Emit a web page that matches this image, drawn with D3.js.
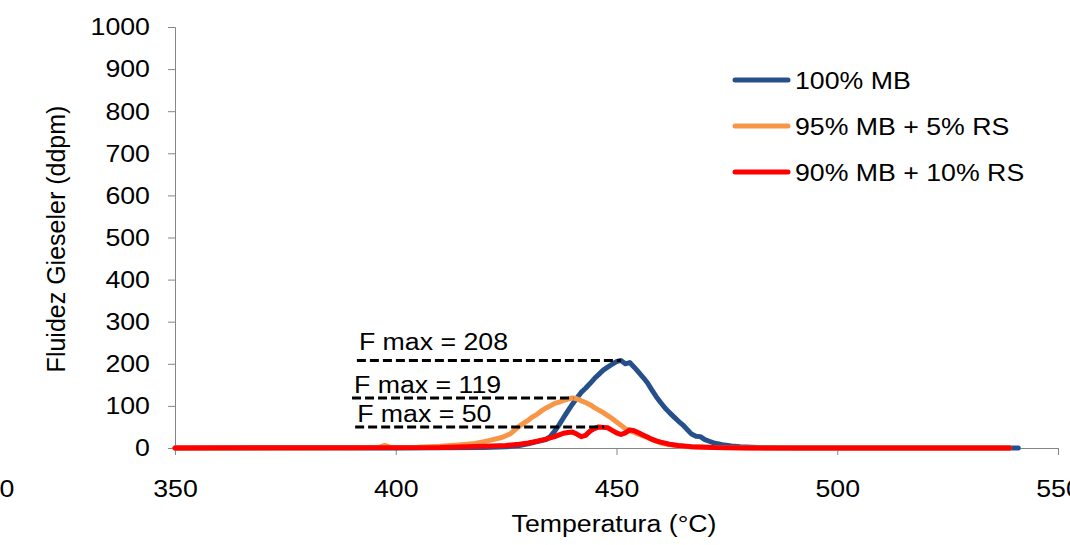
<!DOCTYPE html>
<html>
<head>
<meta charset="utf-8">
<script src="https://cdn.jsdelivr.net/npm/d3@7"></script>
<style>
  body { margin: 0; background: #fff; }
  text { font-family: Arial, "Liberation Sans", sans-serif; }
</style>
</head>
<body>
<svg id="vis"></svg>
<script>
const width = 1070;
const height = 545;

// data: temperature (°C) / Gieseler fluidity (ddpm)
const seriesNames = ["100% MB", "95% MB + 5% RS", "90% MB + 10% RS"];
const seriesColors = ["#25508a", "#f79646", "#ff0000"];

const mb100 = [
  [350, 0], [400, 0], [420, 1], [425, 3], [428, 6], [430, 10], [432, 15], [434, 20],
  [435, 27], [436, 40], [437, 55], [438, 72], [439, 88], [440, 104], [441, 118],
  [442, 132], [443, 142], [444, 153], [445, 165], [446, 175], [447, 185], [448, 192],
  [449, 199], [450, 205], [451, 208], [452, 200], [453, 203], [454, 192], [455, 180],
  [456, 168], [457, 155], [458, 138], [459, 122], [460, 108], [461, 95], [462, 84],
  [463, 74], [464, 64], [465, 55], [466, 44], [467, 33], [468, 28], [469, 27],
  [470, 20], [471, 16], [472, 12], [474, 8], [476, 5], [478, 3], [482, 1], [490, 0], [541, 0]
];
const mb95rs5 = [
  [350, 0], [390, 0], [396, 1], [397.5, 6], [399, 1], [405, 2], [410, 4], [415, 8],
  [418, 11], [420, 15], [422, 20], [424, 25], [426, 34], [427, 43], [428, 52], [429, 59],
  [430, 66], [431, 74], [432, 80], [433, 88], [434, 95], [435, 100], [436, 106],
  [437, 109], [438, 113], [439, 116], [440, 119], [441, 117], [442, 112], [443, 108],
  [444, 103], [445, 96], [446, 90], [447, 84], [448, 77], [449, 70], [450, 62],
  [451, 54], [452, 46], [453, 41], [454, 37], [455, 33], [456, 29], [457, 25],
  [458, 20], [459, 16], [460, 12], [462, 8], [464, 5], [467, 3], [472, 1], [480, 0], [539, 0]
];
const mb90rs10 = [
  [350, 0], [410, 1], [420, 4], [425, 6], [428, 9], [430, 12], [432, 16], [434, 21],
  [436, 27], [437, 31], [438, 35], [439, 37], [440, 38], [441, 33], [442, 27],
  [443, 30], [444, 40], [445, 46], [446, 50], [447, 49], [448, 48], [449, 42],
  [450, 36], [451, 32], [452, 36], [453, 43], [454, 41], [455, 36], [456, 31],
  [457, 26], [458, 21], [459, 17], [460, 14], [462, 9], [464, 6], [467, 3],
  [472, 1], [480, 0], [539, 0]
];

// F max annotations: value, dashed line from / to (°C)
const fmaxValues = [208, 119, 50];
const fmaxFrom = [391.2, 390.1, 390.8];
const fmaxTo = [451, 440.2, 447.2];

const xTicks = [350, 400, 450, 500, 550];
const yTicks = [0, 100, 200, 300, 400, 500, 600, 700, 800, 900, 1000];

const svg = d3.select("svg#vis");
svg.attr("width", width);
svg.attr("height", height);

const x = d3.scaleLinear().domain([350, 550]).range([175, 1058]);
const y = d3.scaleLinear().domain([0, 1000]).range([448, 27]);

const axisColor = "#868686";
const fontSize = 24.5;
const stretch = "scale(1.09,1)";

// y axis
const yAxis = svg.append("g")
  .attr("transform", translate(175, 0))
  .call(d3.axisLeft(y).tickValues(yTicks).tickFormat(d3.format("d")).tickSize(7).tickPadding(16));
yAxis.selectAll("path, line").attr("stroke", axisColor);
yAxis.selectAll("text").attr("font-size", fontSize).attr("fill", "#000")
  .attr("font-family", "Arial, 'Liberation Sans', sans-serif")
  .attr("transform", stretch);

// x axis
const xAxis = svg.append("g")
  .attr("transform", translate(0, 448))
  .call(d3.axisBottom(x).tickValues(xTicks).tickFormat(d3.format("d")).tickSize(7).tickPadding(25));
xAxis.selectAll("path, line").attr("stroke", axisColor);
xAxis.selectAll("text").attr("font-size", fontSize).attr("fill", "#000")
  .attr("font-family", "Arial, 'Liberation Sans', sans-serif")
  .attr("transform", stretch);

// stray label cut at the left edge of the picture
svg.append("text")
  .attr("transform", translate(x(350) - 168, 497) + " " + stretch)
  .attr("text-anchor", "middle")
  .attr("font-size", fontSize)
  .text("0");

// series
const line = d3.line().x(d => x(d[0])).y(d => y(d[1]));
const allSeries = [mb100, mb95rs5, mb90rs10];

svg.selectAll("path.series")
  .data(allSeries)
  .enter()
  .append("path")
  .attr("class", "series")
  .attr("d", line)
  .attr("fill", "none")
  .attr("stroke", (d, i) => seriesColors[i])
  .attr("stroke-width", 5)
  .attr("stroke-linejoin", "round")
  .attr("stroke-linecap", "round");

// F max dashed lines and labels
const labelOffsets = [10, 5, 5];
svg.selectAll("line.fmax")
  .data(fmaxValues)
  .enter()
  .append("line")
  .attr("class", "fmax")
  .attr("x1", (d, i) => x(fmaxFrom[i]))
  .attr("x2", (d, i) => x(fmaxTo[i]))
  .attr("y1", d => y(d))
  .attr("y2", d => y(d))
  .attr("stroke", "#000")
  .attr("stroke-width", 3)
  .attr("stroke-dasharray", "9,4");

svg.selectAll("text.fmax")
  .data(fmaxValues)
  .enter()
  .append("text")
  .attr("class", "fmax")
  .attr("transform", (d, i) => translate(x(fmaxFrom[i]) + 2, y(d) - labelOffsets[i]) + " " + stretch)
  .attr("font-size", fontSize)
  .text(d => "F max = " + d);

// legend
const legend = svg.append("g").attr("transform", translate(735, 80));
seriesNames.forEach(function(name, i) {
  const g = legend.append("g").attr("transform", translate(0, i * 46));
  g.append("line")
    .attr("x1", 0).attr("x2", 53)
    .attr("stroke", seriesColors[i])
    .attr("stroke-width", 5)
    .attr("stroke-linecap", "round");
  g.append("text")
    .attr("transform", translate(60, 9) + " " + stretch)
    .attr("font-size", fontSize)
    .text(name);
});

// axis titles
svg.append("text")
  .attr("transform", translate(614, 532) + " " + stretch)
  .attr("text-anchor", "middle")
  .attr("font-size", fontSize)
  .text("Temperatura (°C)");

svg.append("text")
  .attr("transform", translate(65, 239) + " rotate(-90)")
  .attr("text-anchor", "middle")
  .attr("font-size", 25)
  .text("Fluidez Gieseler (ddpm)");

function translate(x, y) {
  return "translate(" + String(x) + "," + String(y) + ")";
}
</script>
</body>
</html>
